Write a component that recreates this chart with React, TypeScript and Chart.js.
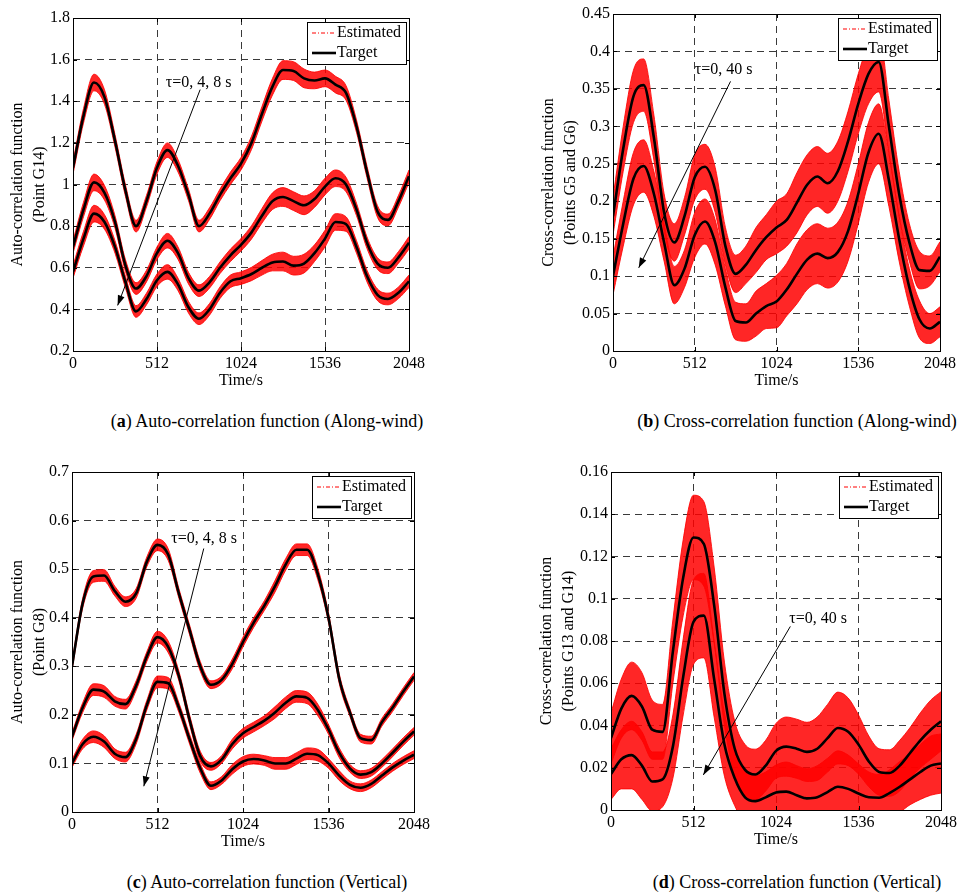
import React, { useEffect, useRef } from "react";
import { Chart, registerables } from "chart.js";
Chart.register(...registerables);

// ---------- shared categories ----------
const times = [0, 64, 128, 192, 256, 320, 384, 448, 512, 576, 640, 704, 768, 832, 896, 960, 1024, 1088, 1152, 1216, 1280, 1344, 1408, 1472, 1536, 1600, 1664, 1728, 1792, 1856, 1920, 1984, 2048];
const xTicks = [0, 512, 1024, 1536, 2048];

// ---------- (a) auto-correlation, along-wind ----------
const aTau0 = [1.08, 1.33, 1.49, 1.42, 1.21, 0.97, 0.80, 0.92, 1.08, 1.165, 1.09, 0.95, 0.80, 0.86, 0.95, 1.03, 1.10, 1.20, 1.34, 1.47, 1.55, 1.545, 1.51, 1.50, 1.51, 1.48, 1.44, 1.28, 1.06, 0.87, 0.83, 0.92, 1.04];
const aTau4 = [0.70, 0.88, 1.01, 0.96, 0.82, 0.61, 0.50, 0.56, 0.67, 0.73, 0.67, 0.55, 0.49, 0.53, 0.60, 0.66, 0.71, 0.77, 0.85, 0.92, 0.94, 0.92, 0.90, 0.93, 0.99, 1.03, 1.00, 0.88, 0.72, 0.62, 0.60, 0.65, 0.72];
const aTau8 = [0.58, 0.74, 0.86, 0.82, 0.70, 0.53, 0.39, 0.45, 0.54, 0.58, 0.52, 0.41, 0.355, 0.40, 0.48, 0.535, 0.55, 0.57, 0.60, 0.625, 0.63, 0.61, 0.62, 0.67, 0.74, 0.82, 0.81, 0.70, 0.56, 0.47, 0.45, 0.48, 0.535];
const aSpread = [0.03, 0.035, 0.04, 0.035, 0.03, 0.028, 0.028, 0.028, 0.03, 0.035, 0.03, 0.028, 0.028, 0.028, 0.028, 0.03, 0.03, 0.032, 0.035, 0.04, 0.045, 0.045, 0.045, 0.04, 0.04, 0.04, 0.035, 0.03, 0.028, 0.028, 0.028, 0.028, 0.03];
const aYTicks = [0.2, 0.4, 0.6, 0.8, 1, 1.2, 1.4, 1.6, 1.8];

// ---------- (b) cross-correlation, along-wind ----------
const bTau0 = [0.18, 0.27, 0.34, 0.355, 0.285, 0.185, 0.145, 0.18, 0.232, 0.246, 0.215, 0.14, 0.103, 0.115, 0.135, 0.152, 0.165, 0.175, 0.198, 0.222, 0.233, 0.224, 0.24, 0.28, 0.33, 0.37, 0.386, 0.30, 0.21, 0.145, 0.108, 0.107, 0.126];
const bTau40 = [0.10, 0.17, 0.23, 0.247, 0.21, 0.145, 0.088, 0.11, 0.155, 0.173, 0.145, 0.085, 0.04, 0.038, 0.05, 0.06, 0.066, 0.082, 0.103, 0.122, 0.13, 0.124, 0.132, 0.16, 0.21, 0.265, 0.29, 0.228, 0.15, 0.085, 0.042, 0.03, 0.039];
const bSpread = [0.025, 0.03, 0.035, 0.035, 0.03, 0.025, 0.025, 0.025, 0.03, 0.03, 0.03, 0.025, 0.025, 0.025, 0.03, 0.03, 0.035, 0.035, 0.04, 0.04, 0.04, 0.04, 0.04, 0.04, 0.04, 0.04, 0.04, 0.035, 0.03, 0.025, 0.025, 0.02, 0.02];
const bYTicks = [0, 0.05, 0.1, 0.15, 0.2, 0.25, 0.3, 0.35, 0.4, 0.45];

// ---------- (c) auto-correlation, vertical ----------
const cTau0 = [0.30, 0.43, 0.485, 0.487, 0.455, 0.433, 0.45, 0.515, 0.55, 0.53, 0.45, 0.375, 0.30, 0.262, 0.272, 0.305, 0.35, 0.39, 0.425, 0.465, 0.51, 0.54, 0.54, 0.49, 0.40, 0.275, 0.205, 0.152, 0.148, 0.185, 0.215, 0.248, 0.279];
const cTau4 = [0.155, 0.215, 0.252, 0.248, 0.228, 0.222, 0.26, 0.32, 0.36, 0.34, 0.28, 0.19, 0.115, 0.094, 0.108, 0.14, 0.162, 0.175, 0.188, 0.205, 0.225, 0.238, 0.235, 0.21, 0.17, 0.122, 0.09, 0.077, 0.082, 0.10, 0.122, 0.145, 0.166];
const cTau8 = [0.10, 0.14, 0.155, 0.145, 0.12, 0.113, 0.15, 0.22, 0.268, 0.265, 0.215, 0.15, 0.09, 0.054, 0.065, 0.088, 0.104, 0.109, 0.106, 0.10, 0.10, 0.11, 0.12, 0.117, 0.10, 0.075, 0.056, 0.05, 0.058, 0.075, 0.092, 0.106, 0.118];
const cSpread = [0.008, 0.01, 0.012, 0.012, 0.01, 0.01, 0.01, 0.01, 0.012, 0.012, 0.01, 0.01, 0.01, 0.008, 0.008, 0.01, 0.01, 0.01, 0.01, 0.012, 0.012, 0.012, 0.012, 0.012, 0.01, 0.01, 0.008, 0.008, 0.008, 0.008, 0.008, 0.008, 0.008];
const cYTicks = [0, 0.1, 0.2, 0.3, 0.4, 0.5, 0.6, 0.7];

// ---------- (d) cross-correlation, vertical ----------
const dTau0 = [0.034, 0.048, 0.054, 0.049, 0.038, 0.037, 0.075, 0.11, 0.129, 0.126, 0.097, 0.055, 0.029, 0.019, 0.0168, 0.021, 0.028, 0.030, 0.029, 0.0275, 0.029, 0.034, 0.0388, 0.037, 0.031, 0.023, 0.018, 0.0175, 0.021, 0.027, 0.033, 0.038, 0.042];
const dTau40 = [0.017, 0.024, 0.026, 0.021, 0.0135, 0.0145, 0.03, 0.063, 0.089, 0.092, 0.062, 0.031, 0.015, 0.006, 0.0042, 0.006, 0.0083, 0.0087, 0.007, 0.0055, 0.006, 0.0085, 0.011, 0.010, 0.0078, 0.006, 0.0058, 0.008, 0.011, 0.0145, 0.018, 0.021, 0.022];
const dSpread = [0.012, 0.014, 0.016, 0.016, 0.014, 0.013, 0.015, 0.018, 0.02, 0.02, 0.018, 0.015, 0.013, 0.012, 0.012, 0.012, 0.013, 0.014, 0.014, 0.014, 0.015, 0.016, 0.017, 0.016, 0.014, 0.012, 0.011, 0.011, 0.012, 0.012, 0.013, 0.014, 0.014];
const dYTicks = [0, 0.02, 0.04, 0.06, 0.08, 0.1, 0.12, 0.14, 0.16];

const FONT = "'Liberation Serif', 'Times New Roman', serif";

type Panel = {
  left: number; top: number; width: number; height: number;
  axisW: number; axisH: number; padTop: number; padRight: number;
  yTicks: number[]; yTitle: string[]; yTitlePad: number;
  curves: number[][]; spread: number[];
  annoText: string; annoAt: [number, number]; arrowFrom: [number, number]; arrowTo: [number, number];
};

const panels: Panel[] = [
  {
    left: 0, top: 0, width: 430, height: 390, axisW: 73, axisH: 39, padTop: 18, padRight: 21,
    yTicks: aYTicks, yTitle: ["Auto-correlation function", "(Point G14)"], yTitlePad: 7,
    curves: [aTau0, aTau4, aTau8], spread: aSpread,
    annoText: "\u03c4=0, 4, 8 s", annoAt: [566, 1.49], arrowFrom: [775, 1.456], arrowTo: [272, 0.419],
  },
  {
    left: 520, top: 0, width: 440, height: 390, axisW: 93, axisH: 39, padTop: 14, padRight: 20,
    yTicks: bYTicks, yTitle: ["Cross-correlation function", "(Points G5 and G6)"], yTitlePad: 18,
    curves: [bTau0, bTau40], spread: bSpread,
    annoText: "\u03c4=0, 40 s", annoAt: [512, 0.376], arrowFrom: [736, 0.36], arrowTo: [161, 0.111],
  },
  {
    left: 0, top: 440, width: 435, height: 411, axisW: 72, axisH: 39, padTop: 32, padRight: 21,
    yTicks: cYTicks, yTitle: ["Auto-correlation function", "(Point G8)"], yTitlePad: 7,
    curves: [cTau0, cTau4, cTau8], spread: cSpread,
    annoText: "\u03c4=0, 4, 8 s", annoAt: [595, 0.562], arrowFrom: [789, 0.5425], arrowTo: [430, 0.053],
  },
  {
    left: 520, top: 440, width: 440, height: 409, axisW: 91, axisH: 39, padTop: 32, padRight: 17,
    yTicks: dYTicks, yTitle: ["Cross-correlation function", "(Points G13 and G14)"], yTitlePad: 16,
    curves: [dTau0, dTau40], spread: dSpread,
    annoText: "\u03c4=0, 40 s", annoAt: [1107, 0.0905], arrowFrom: [1113, 0.0869], arrowTo: [573, 0.0166],
  },
];

const captions = [
  { letter: "a", text: " Auto-correlation function (Along-wind)", cx: 267, cy: 421 },
  { letter: "b", text: " Cross-correlation function (Along-wind)", cx: 797, cy: 421 },
  { letter: "c", text: " Auto-correlation function (Vertical)", cx: 267, cy: 882 },
  { letter: "d", text: " Cross-correlation function (Vertical)", cx: 797, cy: 882 },
];

const pts = (vals: number[]) => vals.map((v, i) => ({ x: times[i], y: v }));

function PanelChart({ p }: { p: Panel }) {
  const ref = useRef<HTMLCanvasElement | null>(null);
  useEffect(() => {
    if (!ref.current) return;
    const yMin = p.yTicks[0];
    const yMax = p.yTicks[p.yTicks.length - 1];
    const datasets: any[] = [];
    p.curves.forEach((c) => {
      datasets.push({
        data: pts(c), borderColor: "#000", borderWidth: 2.6, pointRadius: 0,
        cubicInterpolationMode: "monotone", fill: false, order: 0,
      });
    });
    p.curves.forEach((c) => {
      datasets.push({
        data: pts(c.map((v, i) => v + p.spread[i])), borderColor: "rgba(255,0,0,0.85)", borderWidth: 1,
        pointRadius: 0, cubicInterpolationMode: "monotone", fill: false, order: 1,
      });
      datasets.push({
        data: pts(c.map((v, i) => v - p.spread[i])), borderColor: "rgba(255,0,0,0.85)", borderWidth: 1,
        pointRadius: 0, cubicInterpolationMode: "monotone", fill: "-1",
        backgroundColor: "rgba(255,0,0,0.85)", order: 1,
      });
    });

    const framePlugin = {
      id: "frame",
      afterDatasetsDraw(chart: any) {
        const { ctx, chartArea: a, scales } = chart;
        ctx.save();
        const xs = scales.x, ys = scales.y;
        ctx.fillStyle = "#000";
        ctx.font = `16px ${FONT}`;
        ctx.textBaseline = "middle";
        ctx.textAlign = "left";
        ctx.fillText(p.annoText, xs.getPixelForValue(p.annoAt[0]), ys.getPixelForValue(p.annoAt[1]));
        const x1 = xs.getPixelForValue(p.arrowFrom[0]), y1 = ys.getPixelForValue(p.arrowFrom[1]);
        const x2 = xs.getPixelForValue(p.arrowTo[0]), y2 = ys.getPixelForValue(p.arrowTo[1]);
        ctx.strokeStyle = "#000";
        ctx.lineWidth = 1;
        ctx.beginPath(); ctx.moveTo(x1, y1); ctx.lineTo(x2, y2); ctx.stroke();
        const ang = Math.atan2(y2 - y1, x2 - x1);
        const L = 10, Wd = 3.5;
        ctx.beginPath();
        ctx.moveTo(x2, y2);
        ctx.lineTo(x2 - L * Math.cos(ang) + Wd * Math.sin(ang), y2 - L * Math.sin(ang) - Wd * Math.cos(ang));
        ctx.lineTo(x2 - L * Math.cos(ang) - Wd * Math.sin(ang), y2 - L * Math.sin(ang) + Wd * Math.cos(ang));
        ctx.closePath(); ctx.fill();
        ctx.strokeStyle = "#000";
        ctx.lineWidth = 1;
        ctx.strokeRect(Math.round(a.left) + 0.5, Math.round(a.top) + 0.5, Math.round(a.right - a.left), Math.round(a.bottom - a.top));
        ctx.beginPath();
        xTicks.forEach((t) => {
          const x = Math.round(xs.getPixelForValue(t)) + 0.5;
          ctx.moveTo(x, a.bottom); ctx.lineTo(x, a.bottom - 4);
          ctx.moveTo(x, a.top); ctx.lineTo(x, a.top + 4);
        });
        p.yTicks.forEach((t) => {
          const y = Math.round(ys.getPixelForValue(t)) + 0.5;
          ctx.moveTo(a.left, y); ctx.lineTo(a.left + 4, y);
          ctx.moveTo(a.right, y); ctx.lineTo(a.right - 4, y);
        });
        ctx.stroke();
        ctx.restore();
      },
      afterDraw(chart: any) {
        const { ctx, chartArea: a } = chart;
        const w = 99, h = 42;
        const x0 = Math.round(a.right - 3 - w), y0 = Math.round(a.top + 4);
        ctx.save();
        ctx.fillStyle = "#fff";
        ctx.fillRect(x0, y0, w, h);
        ctx.strokeStyle = "#000";
        ctx.lineWidth = 1;
        ctx.strokeRect(x0 + 0.5, y0 + 0.5, w, h);
        ctx.strokeStyle = "#ff0000";
        ctx.setLineDash([4, 2, 1, 2]);
        ctx.beginPath(); ctx.moveTo(x0 + 5, y0 + 11); ctx.lineTo(x0 + 29, y0 + 11); ctx.stroke();
        ctx.setLineDash([]);
        ctx.strokeStyle = "#000";
        ctx.lineWidth = 2.6;
        ctx.beginPath(); ctx.moveTo(x0 + 5, y0 + 31); ctx.lineTo(x0 + 29, y0 + 31); ctx.stroke();
        ctx.fillStyle = "#000";
        ctx.font = `16px ${FONT}`;
        ctx.textBaseline = "middle";
        ctx.textAlign = "left";
        ctx.fillText("Estimated", x0 + 30, y0 + 11);
        ctx.fillText("Target", x0 + 30, y0 + 31);
        ctx.restore();
      },
    };

    const fmt = (v: any) => String(Number(Number(v).toFixed(4)));
    const chart = new Chart(ref.current, {
      type: "line",
      data: { datasets },
      options: {
        animation: false,
        responsive: false,
        devicePixelRatio: 1,
        layout: { padding: { top: p.padTop, right: p.padRight, left: 0, bottom: 0 } },
        plugins: { legend: { display: false }, tooltip: { enabled: false } },
        elements: { line: { tension: 0 } },
        scales: {
          x: {
            type: "linear", min: 0, max: 2048,
            afterBuildTicks: (s: any) => { s.ticks = xTicks.map((v) => ({ value: v })); },
            afterFit: (s: any) => { s.height = p.axisH; },
            grid: { color: "#3a3a3a", lineWidth: 1, drawTicks: false },
            border: { display: false, dash: [7, 5] },
            ticks: { color: "#000", font: { family: FONT, size: 16 }, padding: 3, maxRotation: 0, callback: fmt },
            title: { display: true, text: "Time/s", color: "#000", font: { family: FONT, size: 16, lineHeight: 1.2 }, padding: 0 },
          },
          y: {
            type: "linear", min: yMin, max: yMax,
            afterBuildTicks: (s: any) => { s.ticks = p.yTicks.map((v) => ({ value: v })); },
            afterFit: (s: any) => { s.width = p.axisW; },
            grid: { color: "#3a3a3a", lineWidth: 1, drawTicks: false },
            border: { display: false, dash: [7, 5] },
            ticks: { color: "#000", font: { family: FONT, size: 16 }, padding: 3, callback: fmt },
            title: {
              display: true, text: p.yTitle, color: "#000",
              font: { family: FONT, size: 16, lineHeight: 1.35 }, padding: { top: p.yTitlePad, bottom: 0 },
            },
          },
        },
      } as any,
      plugins: [framePlugin],
    });
    return () => chart.destroy();
  }, [p]);
  return (
    <canvas
      ref={ref}
      width={p.width}
      height={p.height}
      style={{ position: "absolute", left: p.left, top: p.top, width: p.width, height: p.height }}
    />
  );
}

export default function App() {
  return (
    <div style={{ position: "absolute", left: 0, top: 0, width: 960, height: 896, background: "#fff", overflow: "hidden" }}>
      {panels.map((p, i) => (
        <PanelChart key={i} p={p} />
      ))}
      {captions.map((c, i) => (
        <div
          key={i}
          style={{
            position: "absolute", left: c.cx, top: c.cy, transform: "translate(-50%, -50%)",
            whiteSpace: "nowrap", fontFamily: FONT, fontSize: 18, color: "#000", lineHeight: 1,
          }}
        >
          (<b>{c.letter}</b>){c.text}
        </div>
      ))}
    </div>
  );
}
